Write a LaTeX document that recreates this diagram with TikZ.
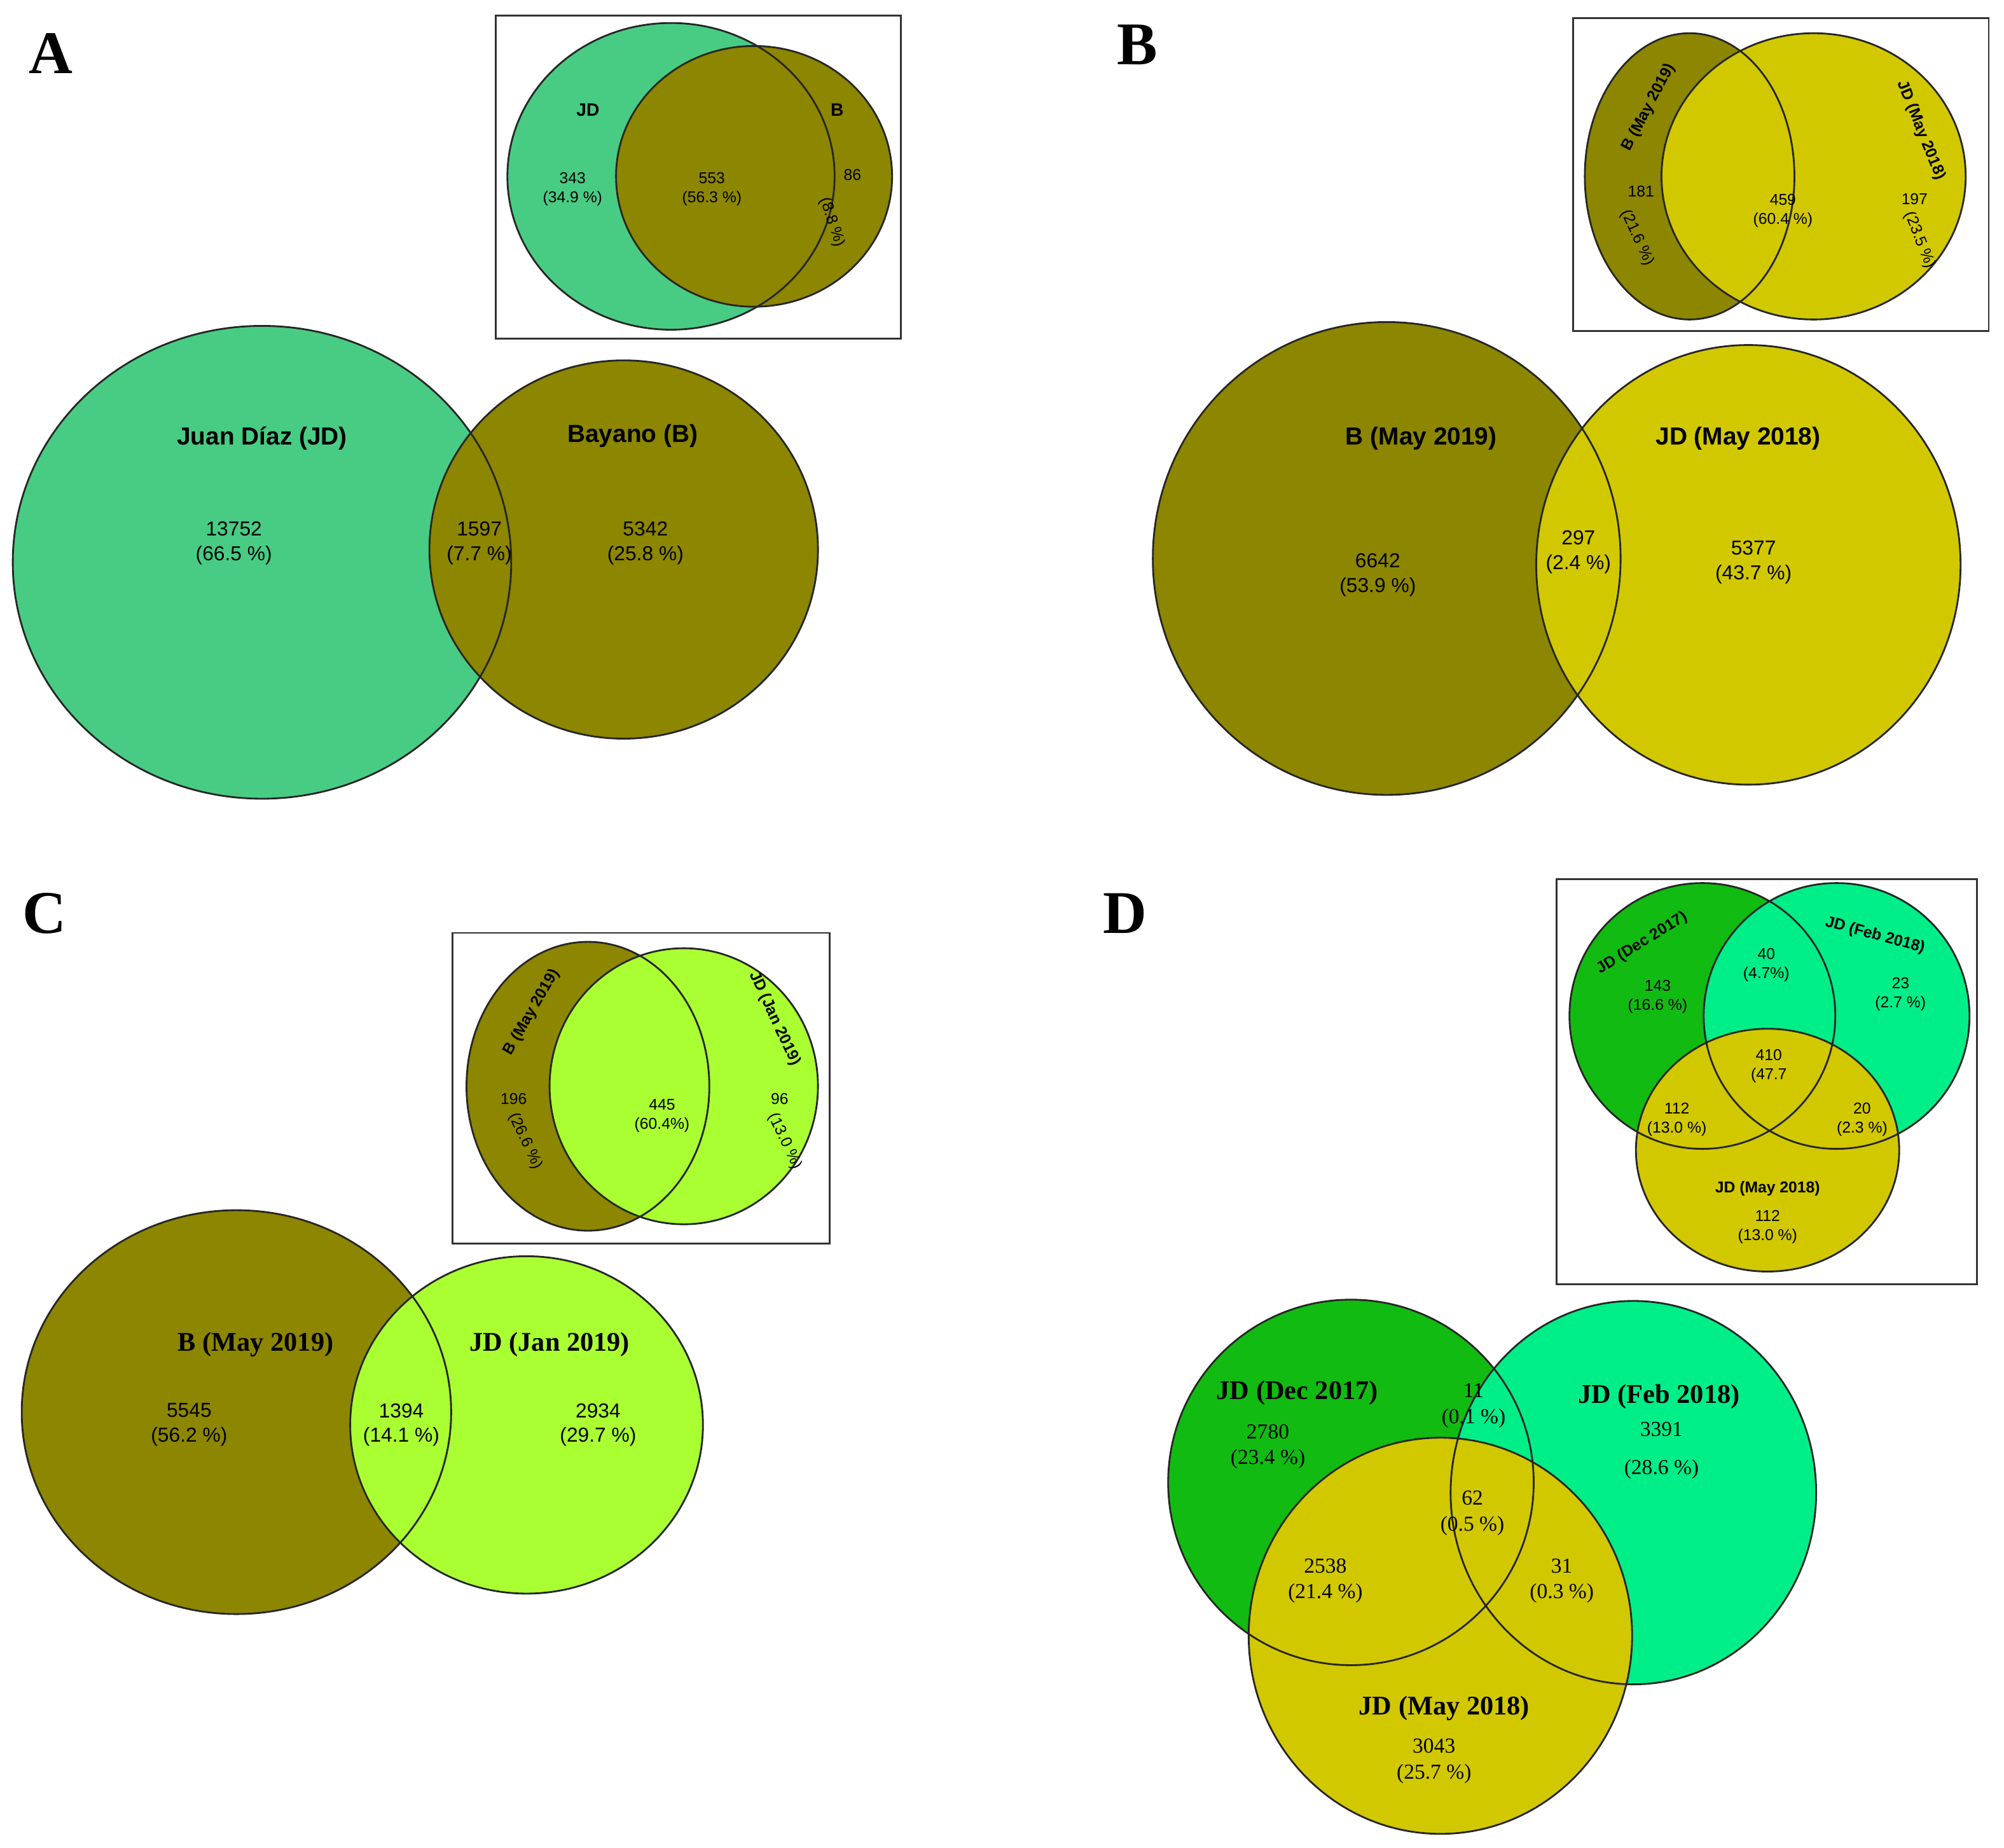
\documentclass[tikz,border=0pt]{standalone}
\usepackage{fontspec}
\setmainfont{Liberation Serif}
\newfontfamily\lsans{Liberation Sans}
\definecolor{cJD}{HTML}{48CC84}
\definecolor{cB}{HTML}{8C8600}
\definecolor{cMay}{HTML}{D2C800}
\definecolor{cJan}{HTML}{AAFF33}
\definecolor{cDec}{HTML}{11BB11}
\definecolor{cFeb}{HTML}{00EE88}
\begin{document}
\begin{tikzpicture}[x=0.02cm,y=-0.02cm,
  set/.style={draw=black!85,line width=0.8pt},
  box/.style={draw=black!80,line width=0.8pt},
  letter/.style={font=\fontsize{27}{27}\selectfont\bfseries,anchor=center},
  bigs/.style={font=\lsans\fontsize{11}{13}\selectfont\bfseries,align=center},
  nums/.style={font=\lsans\fontsize{9}{11}\selectfont,align=center},
  bigt/.style={font=\fontsize{12}{14}\selectfont\bfseries,align=center},
  numt/.style={font=\fontsize{9.5}{11.5}\selectfont,align=center},
  small/.style={font=\lsans\fontsize{7}{8.5}\selectfont,align=center,inner sep=1pt},
  smallb/.style={font=\lsans\fontsize{7}{8.5}\selectfont\bfseries,align=center,inner sep=1pt}]
\useasboundingbox (0,0) rectangle (1568,1446);
% ---------- A ----------
\node[letter] (LA) at (40,42) {A};
\fill[cJD] (205,440) ellipse [x radius=195,y radius=185];
\fill[cB] (488,430) ellipse [x radius=152,y radius=148];
\draw[set] (205,440) ellipse [x radius=195,y radius=185];
\draw[set] (488,430) ellipse [x radius=152,y radius=148];
\node[bigs] (a1) at (205,343) {Juan Díaz (JD)};
\node[bigs] (a2) at (495,341) {Bayano (B)};
\node[nums] (a3) at (183,425) {13752\\(66.5 \%)};
\node[nums] (a4) at (375,425) {1597\\(7.7 \%)};
\node[nums] (a5) at (505,425) {5342\\(25.8 \%)};
\draw[box] (388,12) rectangle (705,265);
\fill[cJD] (525,138) ellipse [x radius=128,y radius=120];
\fill[cB] (590,138) ellipse [x radius=108,y radius=102];
\draw[set] (525,138) ellipse [x radius=128,y radius=120];
\draw[set] (590,138) ellipse [x radius=108,y radius=102];
\node[smallb,font=\lsans\fontsize{8}{9}\selectfont\bfseries] (ai1) at (460,86) {JD};
\node[smallb,font=\lsans\fontsize{8}{9}\selectfont\bfseries] (ai2) at (655,86) {B};
\node[small] (ai3) at (448,148) {343\\(34.9 \%)};
\node[small] (ai4) at (557,148) {553\\(56.3 \%)};
\node[small] (ai5) at (667,137) {86};
\node[small,rotate=-72] (ai6) at (651,174) {(8.8 \%)};
% ---------- B ----------
\node[letter] (LB) at (890,35) {B};
\fill[cB] (1085,437) ellipse [x radius=183,y radius=185];
\fill[cMay] (1368,442) ellipse [x radius=166,y radius=172];
\draw[set] (1085,437) ellipse [x radius=183,y radius=185];
\draw[set] (1368,442) ellipse [x radius=166,y radius=172];
\node[bigs] (b1) at (1112,343) {B (May 2019)};
\node[bigs] (b2) at (1360,343) {JD (May 2018)};
\node[nums] (b3) at (1078,450) {6642\\(53.9 \%)};
\node[nums] (b4) at (1235,432) {297\\(2.4 \%)};
\node[nums] (b5) at (1372,440) {5377\\(43.7 \%)};
\draw[box] (1231,14) rectangle (1556,259);
\fill[cB] (1322,138) ellipse [x radius=82,y radius=112];
\fill[cMay] (1419,138) ellipse [x radius=119,y radius=112];
\draw[set] (1322,138) ellipse [x radius=82,y radius=112];
\draw[set] (1419,138) ellipse [x radius=119,y radius=112];
\node[smallb,rotate=62] (bi1) at (1290,84) {B (May 2019)};
\node[smallb,rotate=-68] (bi2) at (1503,102) {JD (May 2018)};
\node[small] (bi3) at (1284,150) {181};
\node[small,rotate=-65] (bi4) at (1281,186) {(21.6 \%)};
\node[small] (bi5) at (1395,165) {459\\(60.4 \%)};
\node[small] (bi6) at (1498,156) {197};
\node[small,rotate=-68] (bi7) at (1502,188) {(23.5 \%)};
% ---------- C ----------
\node[letter] (LC) at (35,715) {C};
\fill[cB] (185,1105) ellipse [x radius=168,y radius=158];
\fill[cJan] (412,1115) ellipse [x radius=138,y radius=132];
\draw[set] (185,1105) ellipse [x radius=168,y radius=158];
\draw[set] (412,1115) ellipse [x radius=138,y radius=132];
\node[bigt] (c1) at (200,1052) {B (May 2019)};
\node[bigt] (c2) at (430,1052) {JD (Jan 2019)};
\node[nums] (c3) at (148,1115) {5545\\(56.2 \%)};
\node[nums] (c4) at (314,1115) {1394\\(14.1 \%)};
\node[nums] (c5) at (468,1115) {2934\\(29.7 \%)};
\draw[box] (354,730) rectangle (649,973);
\fill[cB] (460,850) ellipse [x radius=95,y radius=113];
\fill[cJan] (535,850) ellipse [x radius=105,y radius=108];
\draw[set] (460,850) ellipse [x radius=95,y radius=113];
\draw[set] (535,850) ellipse [x radius=105,y radius=108];
\node[smallb,rotate=60] (ci1) at (416,792) {B (May 2019)};
\node[smallb,rotate=-65] (ci2) at (606,797) {JD (Jan 2019)};
\node[small] (ci3) at (402,860) {196};
\node[small,rotate=-65] (ci4) at (411,893) {(26.6 \%)};
\node[small] (ci5) at (518,873) {445\\(60.4\%)};
\node[small] (ci6) at (610,860) {96};
\node[small,rotate=-65] (ci7) at (614,893) {(13.0 \%)};
% ---------- D ----------
\node[letter] (LD) at (880,715) {D};
\draw[box] (1218,688) rectangle (1547,1005);
\fill[cDec] (1332,795) circle [radius=104];
\fill[cFeb] (1437,795) circle [radius=104];
\fill[cMay] (1383,900) ellipse [x radius=103,y radius=95];
\draw[set] (1332,795) circle [radius=104];
\draw[set] (1437,795) circle [radius=104];
\draw[set] (1383,900) ellipse [x radius=103,y radius=95];
\node[smallb,rotate=32] (di1) at (1285,738) {JD (Dec 2017)};
\node[smallb,rotate=-15] (di2) at (1467,732) {JD (Feb 2018)};
\node[small] (di3) at (1297,780) {143\\(16.6 \%)};
\node[small] (di4) at (1382,755) {40\\(4.7\%)};
\node[small] (di5) at (1487,778) {23\\(2.7 \%)};
\node[small] (di6) at (1384,834) {410\\(47.7};
\node[small] (di7) at (1312,876) {112\\(13.0 \%)};
\node[small] (di8) at (1457,876) {20\\(2.3 \%)};
\node[smallb] (di9) at (1383,930) {JD (May 2018)};
\node[small] (di10) at (1383,960) {112\\(13.0 \%)};
\fill[cDec] (1057,1160) circle [radius=143];
\fill[cFeb] (1278,1168) ellipse [x radius=143,y radius=150];
\fill[cMay] (1127,1280) ellipse [x radius=150,y radius=155];
\draw[set] (1057,1160) circle [radius=143];
\draw[set] (1278,1168) ellipse [x radius=143,y radius=150];
\draw[set] (1127,1280) ellipse [x radius=150,y radius=155];
\node[bigt] (d1) at (1015,1090) {JD (Dec 2017)};
\node[bigt] (d2) at (1298,1093) {JD (Feb 2018)};
\node[bigt] (d3) at (1130,1337) {JD (May 2018)};
\node[numt] (d4) at (992,1132) {2780\\(23.4 \%)};
\node[numt] (d5) at (1153,1100) {11\\(0.1 \%)};
\node[numt] (d6) at (1300,1135) {3391\\\\[-6pt](28.6 \%)};
\node[numt] (d7) at (1152,1184) {62\\(0.5 \%)};
\node[numt] (d8) at (1037,1237) {2538\\(21.4 \%)};
\node[numt] (d9) at (1222,1237) {31\\(0.3 \%)};
\node[numt] (d10) at (1122,1378) {3043\\(25.7 \%)};
\end{tikzpicture}
\end{document}
